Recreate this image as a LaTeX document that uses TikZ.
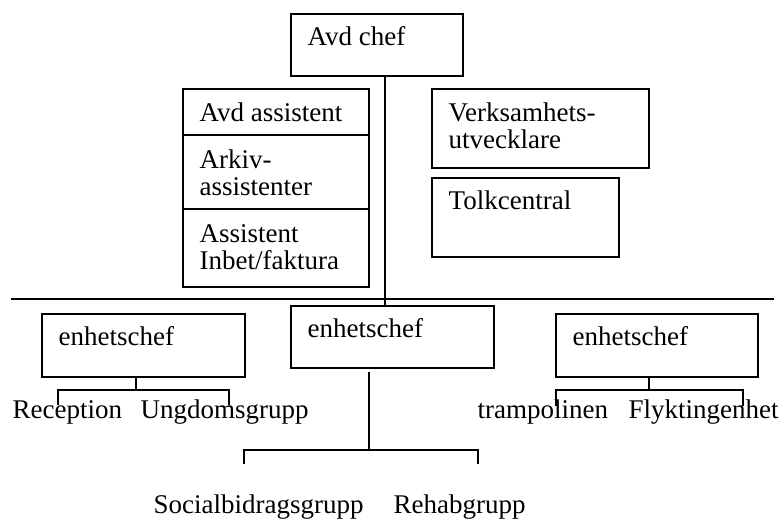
\documentclass[tikz,border=0pt]{standalone}
\usepackage{fontspec}
\setmainfont{Liberation Serif}
\begin{document}
\begin{tikzpicture}[x=0.5pt,y=-0.5pt,line width=0.7pt,
    orgbox/.style={draw, anchor=north west, inner sep=0pt, outer sep=0pt},
    boxtext/.style={anchor=base west, align=left, inner sep=0pt, font=\fontsize{13.5}{13.5}\selectfont},
    grouptext/.style={anchor=base west, inner sep=0pt, font=\fontsize{13.5}{13.5}\selectfont}]
\useasboundingbox (0,0) rectangle (779,520);
    %Ledning
        \node[orgbox, minimum width=86pt, minimum height=31pt] (avdchef) at (291,14) {};
        \node[orgbox, minimum width=93pt, minimum height=23pt] (avdass) at (183,89) {};
        \node[orgbox, minimum width=93pt, minimum height=37pt] (arkiv) at (183,135) {};
        \node[orgbox, minimum width=93pt, minimum height=39pt] (inbet) at (183,209) {};
        \node[orgbox, minimum width=108.5pt, minimum height=39.5pt] (verks) at (432,89) {};
        \node[orgbox, minimum width=93.5pt, minimum height=39.5pt] (tolk) at (432,178) {};
    %Enheter
        \node[orgbox, minimum width=101.5pt, minimum height=31.5pt] (ench1) at (42,314) {};
        \node[orgbox, minimum width=101.5pt, minimum height=31pt] (ench2) at (291,306) {};
        \node[orgbox, minimum width=101pt, minimum height=31.5pt] (ench3) at (556,314) {};
    %Texter i rutorna (sista radens baslinje)
        \foreach \b/\d/\t in {avdchef/31/Avd chef, avdass/32/Avd assistent, arkiv/60/{Arkiv-\\assistenter},
            inbet/60/{Assistent\\Inbet/faktura}, verks/59/{Verksamhets-\\utvecklare}, tolk/31/Tolkcentral,
            ench1/31/enhetschef, ench2/31/enhetschef, ench3/31/enhetschef
        }{\node[boxtext] (\b-txt) at ([shift={(16,\d)}]\b.north west) {\t};}
    %Grupper
        \foreach \n/\x/\y/\t in {rec/12/418/Reception, ung/140/418/Ungdomsgrupp,
            tramp/477/418/trampolinen, flykt/628/418/Flyktingenhet,
            soc/153/513/Socialbidragsgrupp, rehab/393/513/Rehabgrupp
        }{\node[grouptext] (\n) at (\x,\y) {\t};}
    %Linjer
        \coordinate (hl) at (11,299);
        \coordinate (hr) at (774,299);
        \draw (hl) -- (hr);
        \draw ([xshift=4pt]avdchef.south) -- ([xshift=4pt]avdchef.south |- ench2.north);

        \coordinate (ench1-split) at (136,390);
        \coordinate (rec-in) at (58,405);
        \coordinate (ung-in) at (229,405);
        \draw ([xshift=-3.75pt]ench1.south) -- (ench1-split);
        \draw (rec-in) |- (ench1-split) -| (ung-in);

        \coordinate (ench2-split) at (369,450);
        \coordinate (soc-in) at (244,464);
        \coordinate (rehab-in) at (478,464);
        \draw ([xshift=-11.75pt,yshift=-2pt]ench2.south) -- (ench2-split);
        \draw (soc-in) |- (ench2-split) -| (rehab-in);

        \coordinate (ench3-split) at (649,390);
        \coordinate (tramp-in) at (556,406);
        \coordinate (flykt-in) at (743,406);
        \draw ([xshift=-4pt]ench3.south) -- (ench3-split);
        \draw (tramp-in) |- (ench3-split) -| (flykt-in);
\end{tikzpicture}
\end{document}
